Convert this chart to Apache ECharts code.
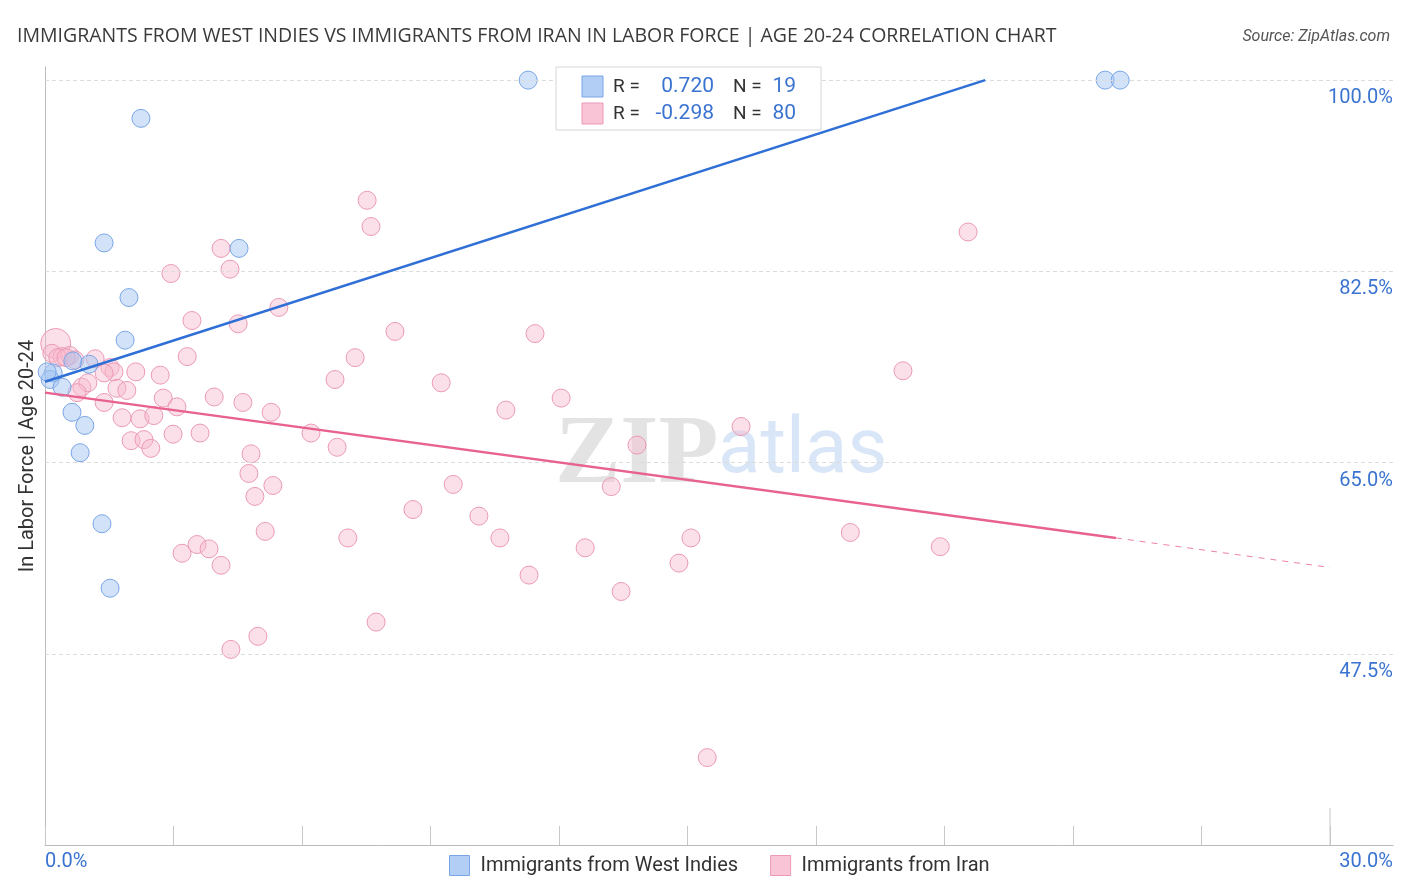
<!DOCTYPE html>
<html><head><meta charset="utf-8">
<script src="https://cdn.jsdelivr.net/npm/echarts@6/dist/echarts.min.js"></script>
<style>html,body{margin:0;padding:0;background:#fff}#c{width:1406px;height:892px}</style>
</head><body><div id="c"></div>
<script>
// ---- data (x: % immigrants, y: % in labor force age 20-24) ----
const westIndies = [
  [11.28,100.0],[24.75,100.0],[25.10,100.0],[2.24,96.5],[1.38,85.1],[4.53,84.6],
  [1.96,80.1],[1.87,76.2],[1.03,74.0],[0.65,74.3],[0.19,73.2],[0.12,72.6],[0.05,73.3],
  [0.40,71.9],[0.63,69.6],[0.93,68.4],[0.82,65.9],[1.33,59.4],[1.52,53.5]
];
const iran = [
  [0.25,75.9],[0.16,75.0],[0.40,74.7],[0.58,74.8],[0.70,74.4],[0.30,74.6],[1.17,74.5],
  [1.52,73.7],[1.61,73.3],[1.38,73.2],[0.86,71.9],[1.00,72.3],[0.75,71.4],[1.68,71.8],
  [1.91,71.6],[2.12,73.3],[2.69,73.0],[3.32,74.7],[3.43,78.0],[2.94,82.3],[1.38,70.5],
  [1.80,69.1],[2.22,69.0],[2.54,69.3],[2.01,67.0],[2.31,67.1],[2.47,66.3],[2.76,70.9],
  [3.08,70.1],[2.99,67.6],[3.62,67.7],[3.95,71.0],[4.11,84.6],[4.32,82.7],[4.51,77.7],
  [4.62,70.5],[5.28,69.6],[5.46,79.2],[4.81,65.8],[4.76,64.0],[4.90,61.9],[5.32,62.9],
  [5.14,58.7],[3.20,56.7],[3.55,57.5],[3.83,57.1],[4.11,55.6],[4.34,47.9],[4.97,49.1],
  [6.21,67.7],[6.82,66.4],[6.77,72.6],[7.24,74.6],[7.52,89.0],[7.61,86.6],[7.07,58.1],
  [7.73,50.4],[8.17,77.0],[8.59,60.7],[9.25,72.3],[9.53,63.0],[10.13,60.1],[10.62,58.1],
  [10.76,69.8],[11.30,54.7],[11.44,76.8],[12.05,70.9],[12.61,57.2],[13.22,62.8],[13.45,53.2],
  [13.82,66.6],[14.80,55.8],[15.08,58.1],[15.46,38.0],[16.25,68.3],[18.80,58.6],[20.03,73.4],
  [20.90,57.3],[21.55,86.1],[0.49,74.6]
];
const westIndiesTrend = [[0,72.4],[21.95,100]];
const iranTrendSolid = [[0,71.4],[25,58.1]];
const iranTrendDashed = [[25,58.1],[30,55.4]];
const yTicks = [47.5,65,82.5,100];
const xTickLabels = ['0.0%','30.0%'];
const stats = [
  {name:'Immigrants from West Indies', r:'0.720', n:'19'},
  {name:'Immigrants from Iran', r:'-0.298', n:'80'}
];
const tallTick = [[30,30],[30,33.4]];

// ---- styles ----
const BLUE_FILL='rgba(165,198,242,0.5)', BLUE_EDGE='#7aa6e6', BLUE_LINE='#2f6fd6';
const PINK_FILL='rgba(248,186,206,0.45)', PINK_EDGE='#eb9ab5', PINK_LINE='#e8628f';
const LABEL_BLUE='#3b74d0';
const FONT='Roboto, "Noto Sans", sans-serif';

const chart = echarts.init(document.getElementById('c'), null, {renderer:'canvas'});

const statGraphics = [];
const boxX=556, boxY=67;
statGraphics.push({type:'rect', shape:{x:boxX,y:boxY,width:265,height:63},
  style:{fill:'#fff', stroke:'#d6d6d6', lineWidth:1}, z:10});
stats.forEach((s,i)=>{
  const cy = boxY+19+i*27;
  statGraphics.push({type:'rect', shape:{x:582,y:cy-10,width:21,height:21},
    style:{fill:i===0?'rgba(165,198,242,0.85)':'rgba(248,186,206,0.85)', stroke:i===0?BLUE_EDGE:PINK_EDGE, lineWidth:1}, z:11});
  statGraphics.push({type:'text', x:613, y:cy+1, style:{text:'R =', fill:'#333', font:'19px '+FONT, textVerticalAlign:'middle'}, z:11});
  statGraphics.push({type:'text', x:714, y:cy+1, style:{text:s.r, fill:LABEL_BLUE, font:'21px '+FONT, textAlign:'right', textVerticalAlign:'middle'}, z:11});
  statGraphics.push({type:'text', x:733, y:cy+1, style:{text:'N =', fill:'#333', font:'19px '+FONT, textVerticalAlign:'middle'}, z:11});
  statGraphics.push({type:'text', x:796, y:cy+1, style:{text:s.n, fill:LABEL_BLUE, font:'21px '+FONT, textAlign:'right', textVerticalAlign:'middle'}, z:11});
});

const option = {
  animation:false,
  backgroundColor:'#fff',
  textStyle:{fontFamily:FONT},
  title:[
    {text:'IMMIGRANTS FROM WEST INDIES VS IMMIGRANTS FROM IRAN IN LABOR FORCE | AGE 20-24 CORRELATION CHART',
     left:12, top:21, textStyle:{fontSize:19.5, fontWeight:'normal', color:'#3a3a3a', fontFamily:'"Open Sans", Roboto, sans-serif'}},
    {text:'Source: ZipAtlas.com', right:11, top:24,
     textStyle:{fontSize:16, fontWeight:'normal', fontStyle:'italic', color:'#555', fontFamily:FONT}}
  ],
  legend:{
    bottom:11, left:444, itemWidth:20, itemHeight:20, itemGap:32,
    textStyle:{fontSize:20, color:'#333', fontFamily:FONT, padding:[0,0,0,6]},
    data:[
      {name:stats[0].name, icon:'rect', itemStyle:{color:'rgba(165,198,242,0.85)', borderColor:BLUE_EDGE, borderWidth:1}},
      {name:stats[1].name, icon:'rect', itemStyle:{color:'rgba(248,186,206,0.85)', borderColor:PINK_EDGE, borderWidth:1}}
    ]
  },
  grid:[
    {left:45, right:13, top:67, bottom:47},
    {left:45, right:76, top:67, bottom:47}
  ],
  xAxis:[
    {type:'value', gridIndex:0, min:0, max:31.47,
     axisLine:{show:true, lineStyle:{color:'#bbb', width:1}}, axisTick:{show:false},
     axisLabel:{show:false}, splitLine:{show:false}},
    {type:'value', gridIndex:1, min:0, max:30, interval:3,
     axisLine:{show:false}, axisTick:{show:true, inside:true, length:19, lineStyle:{color:'#c8c8c8', width:1}},
     axisLabel:{show:false}, splitLine:{show:false}}
  ],
  yAxis:[
    {type:'value', gridIndex:0, position:'left', min:30, max:101.2,
     axisLine:{show:true, lineStyle:{color:'#bbb', width:1}}, axisTick:{show:false},
     axisLabel:{show:false}, splitLine:{show:false},
     name:'In Labor Force | Age 20-24', nameLocation:'middle', nameGap:7, nameRotate:90,
     nameTextStyle:{fontSize:20, color:'#333', fontFamily:FONT}},
    {type:'value', gridIndex:0, position:'right', min:30, max:101.2, interval:17.5,
     axisLine:{show:false}, axisTick:{show:false}, splitLine:{show:false},
     axisLabel:{show:true, inside:true, margin:0, verticalAlign:'top', padding:[8,0,0,0],
       fontSize:20, color:LABEL_BLUE, fontFamily:FONT,
       formatter:v=> yTicks.some(t=>Math.abs(t-v)<1e-6) ? v.toFixed(1)+'%' : ''}},
    {type:'value', gridIndex:1, min:30, max:101.2, show:false}
  ],
  graphic:[
    {type:'text', left:555, top:408, z:0, silent:true,
     style:{text:'ZIP', fill:'rgba(200,200,200,0.5)', font:'bold 98px "Liberation Serif", "DejaVu Serif", serif'}},
    {type:'text', left:718, top:413, z:0, silent:true,
     style:{text:'atlas', fill:'rgba(170,200,240,0.45)', font:'78px '+FONT}},
    {type:'text', left:45, top:852, style:{text:xTickLabels[0], fill:LABEL_BLUE, font:'20px '+FONT}},
    {type:'text', right:13, top:852, style:{text:xTickLabels[1], fill:LABEL_BLUE, font:'20px '+FONT}},
    ...statGraphics
  ],
  series:[
    {name:stats[1].name, type:'scatter', xAxisIndex:0, yAxisIndex:0, data:iran,
     symbolSize:(v,p)=> p.dataIndex===0 ? 30 : 18, z:3,
     itemStyle:{color:PINK_FILL, borderColor:PINK_EDGE, borderWidth:1, opacity:1},
     markLine:{silent:true, symbol:['none','none'], label:{show:false},
       lineStyle:{color:'#dcdcdc', type:[4,3], width:1},
       data: yTicks.map(v=>({yAxis:v}))}},
    {name:stats[0].name, type:'scatter', xAxisIndex:0, yAxisIndex:0, data:westIndies,
     symbolSize:18, z:4,
     itemStyle:{color:BLUE_FILL, borderColor:BLUE_EDGE, borderWidth:1, opacity:1}},
    {name:'wi-trend', type:'line', xAxisIndex:0, yAxisIndex:0, data:westIndiesTrend,
     symbol:'none', z:5, lineStyle:{color:BLUE_LINE, width:2.5}},
    {name:'iran-trend', type:'line', xAxisIndex:0, yAxisIndex:0, data:iranTrendSolid,
     symbol:'none', z:5, lineStyle:{color:PINK_LINE, width:2.5}},
    {name:'iran-trend-ext', type:'line', xAxisIndex:0, yAxisIndex:0, data:iranTrendDashed,
     symbol:'none', z:5, lineStyle:{color:PINK_LINE, width:1, type:[6,6], opacity:0.8}},
    {name:'tick30', type:'line', xAxisIndex:0, yAxisIndex:0, data:tallTick,
     symbol:'none', z:2, silent:true, lineStyle:{color:'#c8c8c8', width:1}}
  ]
};
chart.setOption(option);
</script></body></html>
